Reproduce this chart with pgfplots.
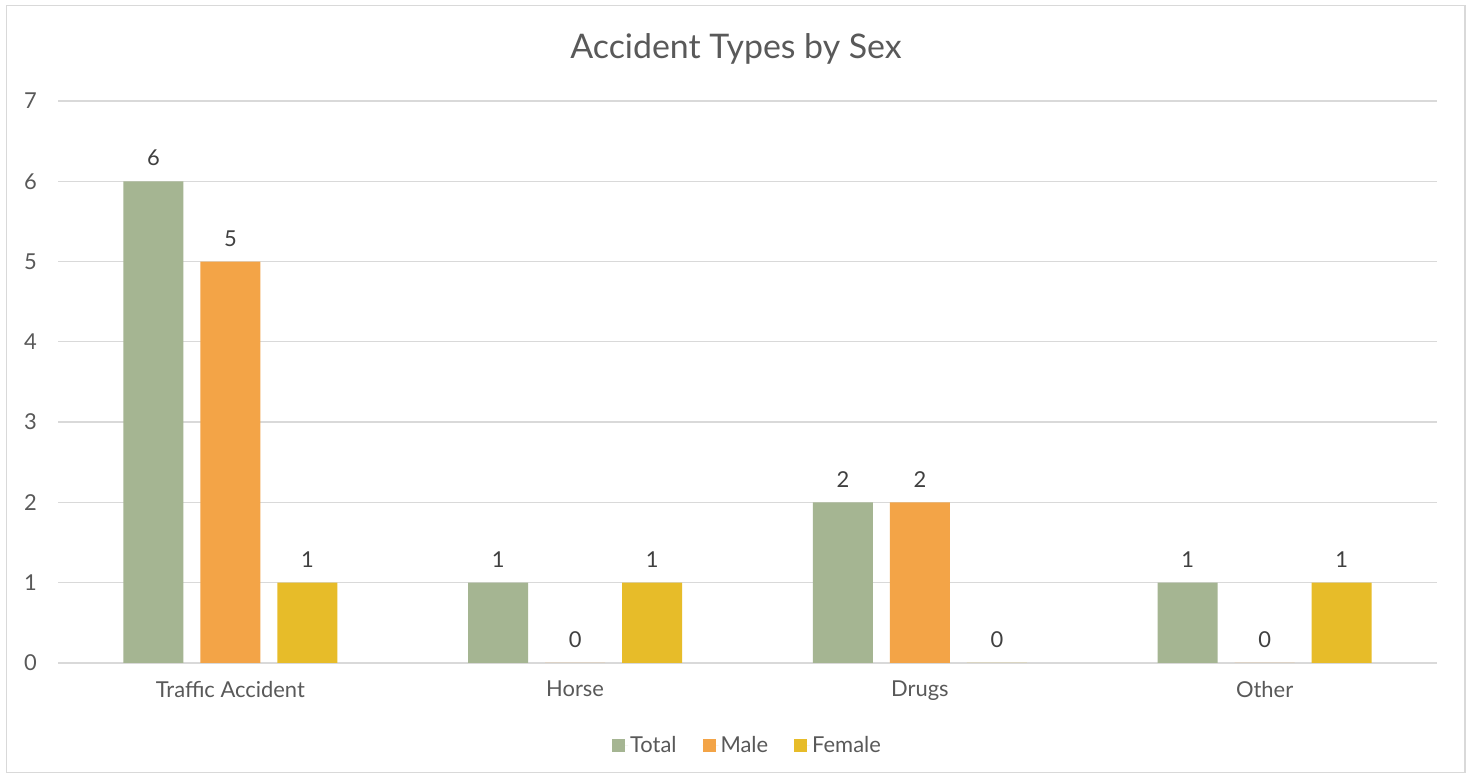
\documentclass[border=0pt]{standalone}
\usepackage{pgfplots}
\pgfplotsset{compat=1.18}
\usepackage{fontspec}
\setmainfont{Lato}
\definecolor{cTotal}{HTML}{A5B592}
\definecolor{cMale}{HTML}{F3A447}
\definecolor{cFemale}{HTML}{E7BC29}
\definecolor{gridc}{HTML}{D9D9D9}
\definecolor{txt}{HTML}{595959}
\definecolor{lbl}{HTML}{404040}
\begin{document}
\begin{tikzpicture}[x=1bp,y=1bp]
\fill[white] (0,0) rectangle (1471,778);
\draw[gridc, line width=1.5bp] (6.5,5.5) rectangle (1465,772.5);
\node[txt, font=\fontsize{34}{40}\selectfont] at (736,729) {Accident Types by Sex};
\begin{axis}[
  at={(58bp,115bp)}, anchor=south west,
  scale only axis, width=1379bp, height=562bp,
  xmin=-0.5, xmax=3.5, ymin=0, ymax=7,
  ytick={0,1,2,3,4,5,6,7},
  xtick={0,1,2,3},
  xticklabels={Traffic Accident, Horse, Drugs, Other},
  ybar=17bp, bar width=60bp,
  ymajorgrids, grid style={gridc, line width=1.3bp},
  axis x line*=bottom, axis y line*=left,
  x axis line style={gridc, line width=1.3bp, -},
  y axis line style={draw=none},
  major tick length=0,
  /pgf/number format/assume math mode=true,
  tick label style={txt, font=\fontsize{22}{26}\selectfont},
  yticklabel style={anchor=east, inner sep=0pt, xshift=-21bp},
  xticklabel style={anchor=north, inner sep=0pt, yshift=-18bp},
  nodes near coords,
  every node near coord/.append style={lbl, font=\fontsize{22}{26}\selectfont, anchor=south, inner sep=0pt, yshift=15bp},
  legend style={at={(0.5,-0.146)}, anchor=center, draw=none, fill=none,
    legend columns=3, font=\fontsize{22}{26}\selectfont, text=txt,
    /tikz/every even column/.append style={column sep=24bp}},
  legend image code/.code={\fill[#1,draw=none] (0bp,-6.5bp) rectangle (13bp,6.5bp); \path (0bp,0bp) -- (16bp,0bp);},
]
\addplot[fill=cTotal, draw=none] coordinates {(0,6) (1,1) (2,2) (3,1)};
\addplot[fill=cMale, draw=none] coordinates {(0,5) (1,0) (2,2) (3,0)};
\addplot[fill=cFemale, draw=none] coordinates {(0,1) (1,1) (2,0) (3,1)};
\legend{Total, Male, Female}
\end{axis}
\end{tikzpicture}
\end{document}
